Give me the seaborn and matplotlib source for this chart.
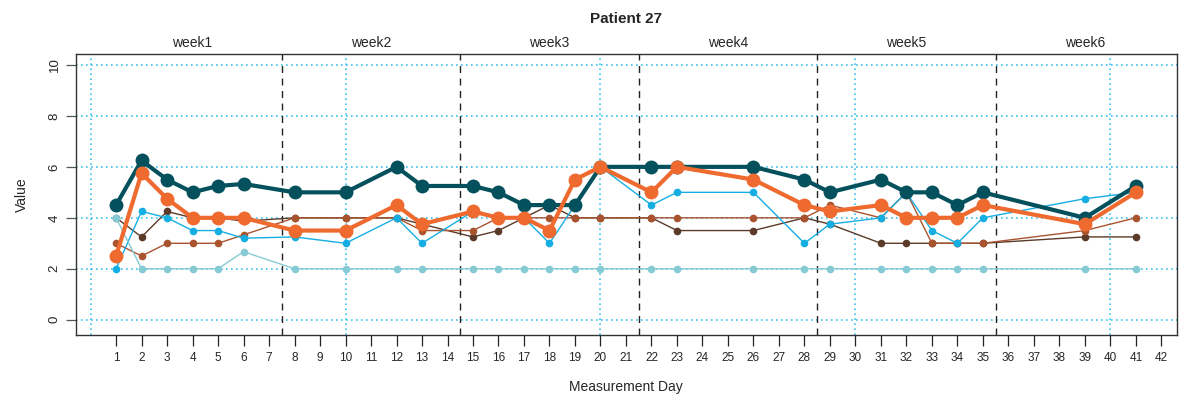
import pandas as pd
import matplotlib
matplotlib.use("Agg")
import matplotlib.pyplot as plt
import seaborn as sns

days = [1, 2, 3, 4, 5, 6, 8, 10, 12, 13, 15, 16, 17, 18, 19, 20, 22, 23, 26, 28, 29, 31, 32, 33, 34, 35, 39, 41]
teal = [4.5, 6.25, 5.5, 5.0, 5.25, 5.33, 5.0, 5.0, 6.0, 5.25, 5.25, 5.0, 4.5, 4.5, 4.5, 6.0, 6.0, 6.0, 6.0, 5.5, 5.0, 5.5, 5.0, 5.0, 4.5, 5.0, 4.0, 5.25]
orange = [2.5, 5.75, 4.75, 4.0, 4.0, 4.0, 3.5, 3.5, 4.5, 3.75, 4.25, 4.0, 4.0, 3.5, 5.5, 6.0, 5.0, 6.0, 5.5, 4.5, 4.25, 4.5, 4.0, 4.0, 4.0, 4.5, 3.75, 5.0]
blue = [2.0, 4.25, 4.0, 3.5, 3.5, 3.2, 3.25, 3.0, 4.0, 3.0, 4.25, 4.0, 4.0, 3.0, 4.5, 6.0, 4.5, 5.0, 5.0, 3.0, 3.75, 4.0, 5.0, 3.5, 3.0, 4.0, 4.75, 5.0]
dark_brown = [4.0, 3.25, 4.25, 4.0, 4.0, 3.87, 4.0, 4.0, 4.0, 3.75, 3.25, 3.5, 4.0, 4.5, 4.0, 4.0, 4.0, 3.5, 3.5, 4.0, 3.75, 3.0, 3.0, 3.0, 3.0, 3.0, 3.25, 3.25]
sienna = [3.0, 2.5, 3.0, 3.0, 3.0, 3.33, 4.0, 4.0, 4.0, 3.5, 3.5, 4.0, 4.0, 4.0, 4.0, 4.0, 4.0, 4.0, 4.0, 4.0, 4.5, 4.0, 5.0, 3.0, 3.0, 3.0, 3.5, 4.0]
light_teal = [4.0, 2.0, 2.0, 2.0, 2.0, 2.67, 2.0, 2.0, 2.0, 2.0, 2.0, 2.0, 2.0, 2.0, 2.0, 2.0, 2.0, 2.0, 2.0, 2.0, 2.0, 2.0, 2.0, 2.0, 2.0, 2.0, 2.0, 2.0]

week_labels = ["week1", "week2", "week3", "week4", "week5", "week6"]
week_centers = [4, 11, 18, 25, 32, 39]
week_breaks = [7.5, 14.5, 21.5, 28.5, 35.5]

df = pd.DataFrame({"day": days, "teal": teal, "orange": orange, "blue": blue,
                   "dark_brown": dark_brown, "sienna": sienna, "light_teal": light_teal})

sns.set_style("white")
plt.rcParams["font.family"] = ["Liberation Sans", "DejaVu Sans"]

fig = plt.figure(figsize=(11.79, 4.01), dpi=100)
ax = fig.add_axes([0.0645, 0.1646, 0.9335, 0.7007])

grid_col = "#3EC1EE"
for y in range(0, 11, 2):
    ax.axhline(y, color=grid_col, lw=1.2, linestyle=(0, (1, 2)), zorder=0)
for x in [0, 10, 20, 30, 40]:
    ax.axvline(x, color=grid_col, lw=1.2, linestyle=(0, (1, 2)), zorder=0)
for x in week_breaks:
    ax.axvline(x, color="#222222", lw=1.0, linestyle=(0, (5, 4)), zorder=0.5)

# thin series first, thick ones on top
thin = [("dark_brown", "#5B3A29"), ("sienna", "#A9532F"), ("blue", "#15AEE2"), ("light_teal", "#86CBD4")]
for col, c in thin:
    sns.lineplot(data=df, x="day", y=col, ax=ax, color=c, lw=1.0, marker="o",
                 markersize=5.5, markeredgewidth=0, zorder=2)
sns.lineplot(data=df, x="day", y="teal", ax=ax, color="#04505C", lw=3.0, marker="o",
             markersize=10, markeredgewidth=0, zorder=3)
sns.lineplot(data=df, x="day", y="orange", ax=ax, color="#EE6A2F", lw=3.0, marker="o",
             markersize=10, markeredgewidth=0, zorder=4)

ax.set_xlim(-0.57, 42.6)
ax.set_ylim(-0.6, 10.43)
ax.set_xticks(range(1, 43))
ax.set_xticklabels([str(d) for d in range(1, 43)], fontsize=8.5)
ax.set_yticks(range(0, 11, 2))
ax.set_yticklabels([str(v) for v in range(0, 11, 2)], fontsize=9.5, rotation=90, va="center")
ax.tick_params(axis="x", bottom=True, length=8, width=0.9, color="#222222", pad=4)
ax.tick_params(axis="y", left=True, length=7, width=0.9, color="#555555", pad=4)

for s in ax.spines.values():
    s.set_visible(True)
    s.set_color("#333333")
    s.set_linewidth(1.0)

ax.set_xlabel("Measurement Day", fontsize=10, labelpad=12)
ax.set_ylabel("Value", fontsize=10, labelpad=14)

for lab, c in zip(week_labels, week_centers):
    ax.text(c, 1.015, lab, transform=ax.get_xaxis_transform(), ha="center", va="bottom", fontsize=10)

ax.set_title("Patient 27", fontsize=11, fontweight="bold", pad=22)

fig.savefig("out.png", dpi=100)
